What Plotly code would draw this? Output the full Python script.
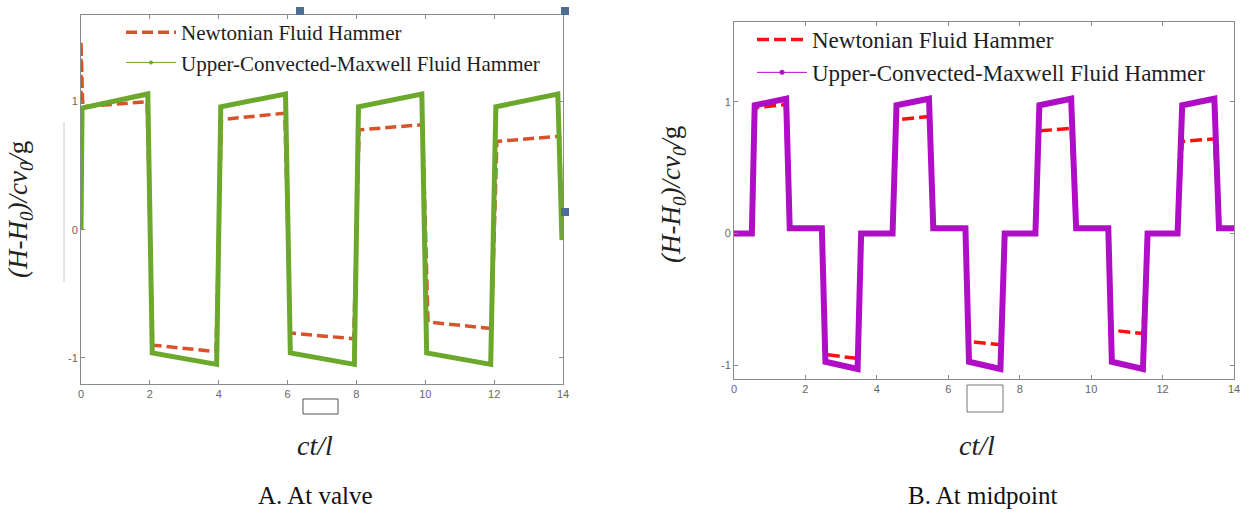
import plotly.graph_objects as go

# ---------------- data ----------------
x_ticks = [0, 2, 4, 6, 8, 10, 12, 14]
x_tick_labels = ["0", "2", "4", "6", "8", "10", "12", "14"]
y_ticks = [-1, 0, 1]
y_tick_labels = ["-1", "0", "1"]

# A. At valve
valve_t_newt = [0, 0, 0.05, 1.92, 2.08, 3.92, 4.08, 5.92, 6.08, 7.92, 8.08, 9.92, 10.08, 11.92, 12.08, 13.9, 13.97]
valve_newt = [0, 1.47, 0.96, 1.0, -0.9, -0.95, 0.86, 0.91, -0.805, -0.85, 0.78, 0.82, -0.72, -0.77, 0.69, 0.73, 0.0]
valve_t_ucm = [0, 0.03, 1.94, 2.07, 3.94, 4.06, 5.94, 6.08, 7.94, 8.06, 9.9, 10.04, 11.9, 12.05, 13.85, 13.97]
valve_ucm = [0, 0.95, 1.06, -0.96, -1.05, 0.96, 1.06, -0.96, -1.05, 0.96, 1.06, -0.96, -1.05, 0.96, 1.06, -0.08]

# B. At midpoint
mid_t_newt = [0, 0.48, 0.56, 1.44, 1.56, 2.46, 2.56, 3.46, 3.56, 4.44, 4.55, 5.46, 5.58, 6.48, 6.58, 7.46, 7.58,
              8.44, 8.55, 9.44, 9.58, 10.48, 10.58, 11.45, 11.58, 12.42, 12.55, 13.45, 13.58, 14]
mid_newt = [0, 0, 0.955, 0.98, 0.04, 0.04, -0.92, -0.95, 0, 0, 0.865, 0.89, 0.04, 0.04, -0.82, -0.845, 0,
            0, 0.78, 0.80, 0.04, 0.04, -0.735, -0.76, 0, 0, 0.70, 0.72, 0.04, 0.04]
mid_t_ucm = [0, 0.5, 0.58, 1.46, 1.56, 2.46, 2.56, 3.46, 3.56, 4.44, 4.55, 5.46, 5.58, 6.48, 6.58, 7.46, 7.58,
             8.44, 8.55, 9.44, 9.58, 10.48, 10.58, 11.45, 11.58, 12.42, 12.55, 13.45, 13.58, 14]
mid_ucm = [0, 0, 0.975, 1.025, 0.04, 0.04, -0.975, -1.03, 0, 0, 0.975, 1.025, 0.04, 0.04, -0.975, -1.03, 0,
           0, 0.975, 1.025, 0.04, 0.04, -0.975, -1.03, 0, 0, 0.975, 1.025, 0.04, 0.04]

name_newt = "Newtonian Fluid Hammer"
name_ucm = "Upper-Convected-Maxwell Fluid Hammer"

# ---------------- styling ----------------
W, H = 1259, 513
SERIF = "Liberation Serif"
SANS = "Liberation Sans"
ORANGE = "#D9532A"
GREEN = "#6BA82B"
RED = "#FF1010"
MAGENTA = "#B00DC6"
AXIS = "#8a8a8a"


def px(xp):
    return xp / W


def py(yp):
    return 1 - yp / H


fig = go.Figure()

# left panel
fig.add_trace(go.Scatter(x=valve_t_newt, y=valve_newt, mode="lines", name=name_newt,
                         line=dict(color=ORANGE, width=3.5, dash="11px,5px"),
                         xaxis="x", yaxis="y", legend="legend"))
fig.add_trace(go.Scatter(x=valve_t_ucm, y=valve_ucm, mode="lines", name=name_ucm, showlegend=False,
                         line=dict(color=GREEN, width=5),
                         xaxis="x", yaxis="y"))
fig.add_trace(go.Scatter(x=[None], y=[None], mode="lines+markers", name=name_ucm,
                         line=dict(color=GREEN, width=1), marker=dict(color=GREEN, size=4),
                         xaxis="x", yaxis="y", legend="legend"))

# right panel
fig.add_trace(go.Scatter(x=mid_t_newt, y=mid_newt, mode="lines", name=name_newt,
                         line=dict(color=RED, width=3.5, dash="12px,5px"),
                         xaxis="x2", yaxis="y2", legend="legend2"))
fig.add_trace(go.Scatter(x=mid_t_ucm, y=mid_ucm, mode="lines", name=name_ucm, showlegend=False,
                         line=dict(color=MAGENTA, width=6),
                         xaxis="x2", yaxis="y2"))
fig.add_trace(go.Scatter(x=[None], y=[None], mode="lines+markers", name=name_ucm,
                         line=dict(color=MAGENTA, width=1), marker=dict(color=MAGENTA, size=5),
                         xaxis="x2", yaxis="y2", legend="legend2"))

axis_common = dict(showline=True, linecolor=AXIS, linewidth=1, mirror="ticks", ticks="inside",
                   ticklen=4, tickcolor=AXIS, showgrid=False, zeroline=False, automargin=False,
                   tickfont=dict(family=SANS, size=11, color="#666"))

fig.update_layout(
    width=W, height=H,
    margin=dict(l=0, r=0, t=0, b=0, autoexpand=False),
    paper_bgcolor="white", plot_bgcolor="white",
    showlegend=True,
    xaxis=dict(domain=[px(81), px(563)], range=[0, 14], anchor="y",
               tickvals=x_ticks, ticktext=x_tick_labels, **axis_common),
    yaxis=dict(domain=[py(384), py(15)], range=[-1.203, 1.676], anchor="x",
               tickvals=y_ticks, ticktext=y_tick_labels, **axis_common),
    xaxis2=dict(domain=[px(734), px(1234)], range=[0, 14], anchor="y2",
                tickvals=x_ticks, ticktext=x_tick_labels, **axis_common),
    yaxis2=dict(domain=[py(379), py(22)], range=[-1.106, 1.608], anchor="x2",
                tickvals=y_ticks, ticktext=y_tick_labels, **axis_common),
    legend=dict(x=px(121), y=py(12), xanchor="left", yanchor="top", bgcolor="rgba(0,0,0,0)",
                font=dict(family=SERIF, size=21, color="#1e1e1e"), itemwidth=50, tracegroupgap=0),
    legend2=dict(x=px(752), y=py(18), xanchor="left", yanchor="top", bgcolor="rgba(0,0,0,0)",
                 font=dict(family=SERIF, size=23, color="#1e1e1e"), itemwidth=50, tracegroupgap=0),
)

ytitle = "<i>(H-H<sub>0</sub>)/cv<sub>0</sub>/</i>g"
ann = [
    dict(x=px(20), y=py(210), text=ytitle, textangle=-90, font=dict(family=SERIF, size=27, color="#222")),
    dict(x=px(673), y=py(195), text=ytitle, textangle=-90, font=dict(family=SERIF, size=27, color="#222")),
    dict(x=px(315), y=py(445), text="<i>ct/l</i>", font=dict(family=SERIF, size=28, color="#222")),
    dict(x=px(977), y=py(445), text="<i>ct/l</i>", font=dict(family=SERIF, size=28, color="#222")),
    dict(x=px(315), y=py(495), text="A. At valve", font=dict(family=SERIF, size=25, color="#111")),
    dict(x=px(982), y=py(495), text="B. At midpoint", font=dict(family=SERIF, size=25, color="#111")),
]
for a in ann:
    a.update(xref="paper", yref="paper", showarrow=False, xanchor="center", yanchor="middle")
fig.update_layout(annotations=ann)

# screenshot artefacts (handles / boxes) in pixel positions
def rect(x0, y0, x1, y1, **kw):
    return dict(type="rect", xref="paper", yref="paper", x0=px(x0), x1=px(x1), y0=py(y1), y1=py(y0), **kw)

shapes = [
    rect(296, 7, 304, 15, fillcolor="#4F6D91", line=dict(width=0)),
    rect(561, 7, 569, 15, fillcolor="#4F6D91", line=dict(width=0)),
    rect(561, 208, 569, 216, fillcolor="#4F6D91", line=dict(width=0)),
    rect(303, 399, 338, 414, fillcolor="white", line=dict(color="#555", width=1)),
    rect(967, 385, 1003, 412, fillcolor="white", line=dict(color="#777", width=1)),
    dict(type="line", xref="paper", yref="paper", x0=px(64), x1=px(64), y0=py(282), y1=py(122),
         line=dict(color="#c8c8c8", width=1)),
]
fig.update_layout(shapes=shapes)

fig.write_html("out.html", config={"displayModeBar": False},
               post_script="document.body.style.margin='0px';document.body.style.overflow='hidden';")
